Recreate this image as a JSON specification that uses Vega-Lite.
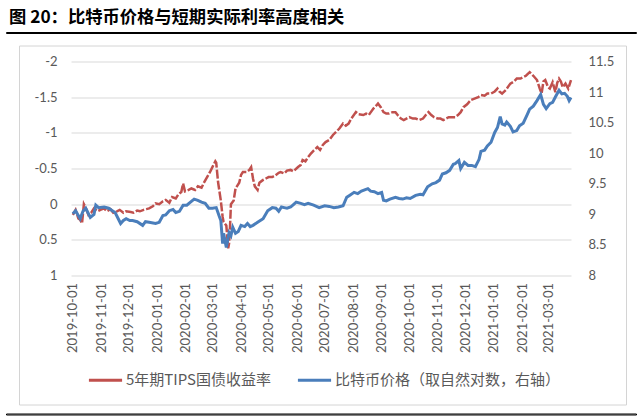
{
  "$schema": "https://vega.github.io/schema/vega-lite/v6.json",
  "padding": {"left": 5, "top": 8, "right": 5, "bottom": 5},
  "background": "white",
  "bounds": "flush",
  "center": false,
  "spacing": 381.5,
  "datasets": {
    "tips": [
      {"date":"2019-10-01","v":0.15},{"date":"2019-10-04","v":0.08},{"date":"2019-10-07","v":0.2},{"date":"2019-10-09","v":0.22},{"date":"2019-10-11","v":0.27},{"date":"2019-10-13","v":0.0},{"date":"2019-10-15","v":0.05},{"date":"2019-10-18","v":0.15},{"date":"2019-10-21","v":0.12},{"date":"2019-10-24","v":0.06},{"date":"2019-10-28","v":0.1},{"date":"2019-10-31","v":0.08},
      {"date":"2019-11-04","v":0.06},{"date":"2019-11-07","v":0.1},{"date":"2019-11-11","v":0.07},{"date":"2019-11-14","v":0.12},{"date":"2019-11-18","v":0.1},{"date":"2019-11-21","v":0.08},{"date":"2019-11-25","v":0.12},{"date":"2019-11-28","v":0.1},
      {"date":"2019-12-03","v":0.11},{"date":"2019-12-06","v":0.12},{"date":"2019-12-10","v":0.09},{"date":"2019-12-13","v":0.1},{"date":"2019-12-17","v":0.08},{"date":"2019-12-20","v":0.07},{"date":"2019-12-23","v":0.06},{"date":"2019-12-27","v":0.03},{"date":"2019-12-30","v":-0.01},
      {"date":"2020-01-03","v":0.0},{"date":"2020-01-07","v":-0.04},{"date":"2020-01-10","v":-0.06},{"date":"2020-01-14","v":-0.02},{"date":"2020-01-17","v":-0.1},{"date":"2020-01-21","v":-0.08},{"date":"2020-01-24","v":-0.14},{"date":"2020-01-27","v":-0.17},{"date":"2020-01-29","v":-0.29},{"date":"2020-01-31","v":-0.18},
      {"date":"2020-02-04","v":-0.2},{"date":"2020-02-07","v":-0.22},{"date":"2020-02-11","v":-0.2},{"date":"2020-02-14","v":-0.25},{"date":"2020-02-18","v":-0.23},{"date":"2020-02-21","v":-0.31},{"date":"2020-02-25","v":-0.4},{"date":"2020-02-28","v":-0.47},
      {"date":"2020-03-02","v":-0.55},{"date":"2020-03-04","v":-0.6},{"date":"2020-03-05","v":-0.58},{"date":"2020-03-07","v":-0.31},{"date":"2020-03-10","v":-0.05},{"date":"2020-03-12","v":0.18},{"date":"2020-03-13","v":0.25},{"date":"2020-03-16","v":0.3},{"date":"2020-03-18","v":0.62},{"date":"2020-03-19","v":0.55},{"date":"2020-03-20","v":0.32},{"date":"2020-03-21","v":0.0},{"date":"2020-03-24","v":-0.05},{"date":"2020-03-26","v":-0.22},{"date":"2020-03-30","v":-0.3},
      {"date":"2020-04-01","v":-0.41},{"date":"2020-04-03","v":-0.45},{"date":"2020-04-07","v":-0.45},{"date":"2020-04-10","v":-0.48},{"date":"2020-04-12","v":-0.52},{"date":"2020-04-14","v":-0.36},{"date":"2020-04-16","v":-0.25},{"date":"2020-04-19","v":-0.2},{"date":"2020-04-21","v":-0.3},{"date":"2020-04-25","v":-0.34},{"date":"2020-04-28","v":-0.36},
      {"date":"2020-05-01","v":-0.38},{"date":"2020-05-05","v":-0.38},{"date":"2020-05-08","v":-0.4},{"date":"2020-05-12","v":-0.44},{"date":"2020-05-14","v":-0.45},{"date":"2020-05-18","v":-0.43},{"date":"2020-05-21","v":-0.47},{"date":"2020-05-25","v":-0.48},{"date":"2020-05-28","v":-0.46},
      {"date":"2020-06-02","v":-0.52},{"date":"2020-06-05","v":-0.55},{"date":"2020-06-07","v":-0.62},{"date":"2020-06-10","v":-0.6},{"date":"2020-06-13","v":-0.66},{"date":"2020-06-16","v":-0.71},{"date":"2020-06-19","v":-0.75},{"date":"2020-06-23","v":-0.8},{"date":"2020-06-26","v":-0.76},{"date":"2020-06-29","v":-0.83},
      {"date":"2020-07-02","v":-0.87},{"date":"2020-07-06","v":-0.9},{"date":"2020-07-10","v":-0.97},{"date":"2020-07-14","v":-1.02},{"date":"2020-07-17","v":-1.06},{"date":"2020-07-21","v":-1.13},{"date":"2020-07-24","v":-1.1},{"date":"2020-07-27","v":-1.13},{"date":"2020-07-30","v":-1.2},
      {"date":"2020-08-04","v":-1.29},{"date":"2020-08-07","v":-1.26},{"date":"2020-08-12","v":-1.25},{"date":"2020-08-15","v":-1.27},{"date":"2020-08-18","v":-1.25},{"date":"2020-08-23","v":-1.34},{"date":"2020-08-26","v":-1.38},{"date":"2020-08-28","v":-1.41},{"date":"2020-08-31","v":-1.36},
      {"date":"2020-09-03","v":-1.29},{"date":"2020-09-06","v":-1.27},{"date":"2020-09-09","v":-1.27},{"date":"2020-09-13","v":-1.29},{"date":"2020-09-16","v":-1.29},{"date":"2020-09-19","v":-1.24},{"date":"2020-09-22","v":-1.2},{"date":"2020-09-25","v":-1.18},{"date":"2020-09-28","v":-1.2},
      {"date":"2020-10-01","v":-1.22},{"date":"2020-10-05","v":-1.2},{"date":"2020-10-08","v":-1.2},{"date":"2020-10-12","v":-1.18},{"date":"2020-10-16","v":-1.2},{"date":"2020-10-19","v":-1.25},{"date":"2020-10-22","v":-1.29},{"date":"2020-10-25","v":-1.25},{"date":"2020-10-28","v":-1.22},
      {"date":"2020-11-01","v":-1.2},{"date":"2020-11-04","v":-1.2},{"date":"2020-11-07","v":-1.18},{"date":"2020-11-10","v":-1.2},{"date":"2020-11-13","v":-1.22},{"date":"2020-11-17","v":-1.22},{"date":"2020-11-20","v":-1.22},{"date":"2020-11-23","v":-1.25},{"date":"2020-11-26","v":-1.29},{"date":"2020-11-29","v":-1.36},
      {"date":"2020-12-03","v":-1.4},{"date":"2020-12-07","v":-1.46},{"date":"2020-12-11","v":-1.48},{"date":"2020-12-15","v":-1.5},{"date":"2020-12-18","v":-1.53},{"date":"2020-12-22","v":-1.52},{"date":"2020-12-25","v":-1.55},{"date":"2020-12-29","v":-1.55},
      {"date":"2021-01-02","v":-1.58},{"date":"2021-01-05","v":-1.62},{"date":"2021-01-07","v":-1.58},{"date":"2021-01-10","v":-1.55},{"date":"2021-01-14","v":-1.6},{"date":"2021-01-19","v":-1.69},{"date":"2021-01-23","v":-1.72},{"date":"2021-01-26","v":-1.76},{"date":"2021-01-30","v":-1.76},
      {"date":"2021-02-02","v":-1.78},{"date":"2021-02-05","v":-1.8},{"date":"2021-02-09","v":-1.85},{"date":"2021-02-13","v":-1.8},{"date":"2021-02-17","v":-1.74},{"date":"2021-02-20","v":-1.62},{"date":"2021-02-22","v":-1.55},{"date":"2021-02-24","v":-1.72},{"date":"2021-02-26","v":-1.74},
      {"date":"2021-03-01","v":-1.64},{"date":"2021-03-03","v":-1.62},{"date":"2021-03-06","v":-1.71},{"date":"2021-03-09","v":-1.57},{"date":"2021-03-11","v":-1.7},{"date":"2021-03-13","v":-1.76},{"date":"2021-03-15","v":-1.72},{"date":"2021-03-17","v":-1.64},{"date":"2021-03-20","v":-1.69},{"date":"2021-03-23","v":-1.62},{"date":"2021-03-26","v":-1.74}
    ],
    "btc": [
      {"date":"2019-10-01","v":9.01},{"date":"2019-10-04","v":9.06},{"date":"2019-10-09","v":8.93},{"date":"2019-10-12","v":9.05},{"date":"2019-10-15","v":9.1},{"date":"2019-10-20","v":8.95},{"date":"2019-10-24","v":9.0},{"date":"2019-10-26","v":9.15},{"date":"2019-10-29","v":9.11},
      {"date":"2019-11-04","v":9.12},{"date":"2019-11-09","v":9.1},{"date":"2019-11-13","v":9.06},{"date":"2019-11-16","v":9.03},{"date":"2019-11-22","v":8.85},{"date":"2019-11-25","v":8.9},{"date":"2019-11-28","v":8.93},
      {"date":"2019-12-02","v":8.9},{"date":"2019-12-05","v":8.9},{"date":"2019-12-10","v":8.88},{"date":"2019-12-16","v":8.82},{"date":"2019-12-19","v":8.88},{"date":"2019-12-23","v":8.87},{"date":"2019-12-30","v":8.85},
      {"date":"2020-01-03","v":8.87},{"date":"2020-01-07","v":8.98},{"date":"2020-01-10","v":8.99},{"date":"2020-01-14","v":9.06},{"date":"2020-01-18","v":9.08},{"date":"2020-01-21","v":9.03},{"date":"2020-01-25","v":9.05},{"date":"2020-01-29","v":9.15},
      {"date":"2020-02-02","v":9.15},{"date":"2020-02-06","v":9.2},{"date":"2020-02-10","v":9.25},{"date":"2020-02-14","v":9.23},{"date":"2020-02-18","v":9.2},{"date":"2020-02-22","v":9.18},{"date":"2020-02-26","v":9.1},
      {"date":"2020-03-01","v":9.1},{"date":"2020-03-05","v":9.11},{"date":"2020-03-08","v":8.98},{"date":"2020-03-10","v":8.9},{"date":"2020-03-12","v":8.52},{"date":"2020-03-13","v":8.69},{"date":"2020-03-16","v":8.46},{"date":"2020-03-19","v":8.7},{"date":"2020-03-21","v":8.65},{"date":"2020-03-23","v":8.79},{"date":"2020-03-26","v":8.69},{"date":"2020-03-29","v":8.72},
      {"date":"2020-04-01","v":8.82},{"date":"2020-04-05","v":8.8},{"date":"2020-04-08","v":8.85},{"date":"2020-04-11","v":8.8},{"date":"2020-04-14","v":8.82},{"date":"2020-04-19","v":8.87},{"date":"2020-04-25","v":8.93},{"date":"2020-04-30","v":9.06},
      {"date":"2020-05-05","v":9.11},{"date":"2020-05-09","v":9.1},{"date":"2020-05-12","v":9.05},{"date":"2020-05-15","v":9.12},{"date":"2020-05-18","v":9.11},{"date":"2020-05-21","v":9.1},{"date":"2020-05-25","v":9.12},{"date":"2020-05-28","v":9.16},{"date":"2020-05-31","v":9.2},
      {"date":"2020-06-05","v":9.18},{"date":"2020-06-09","v":9.16},{"date":"2020-06-13","v":9.18},{"date":"2020-06-19","v":9.15},{"date":"2020-06-25","v":9.11},
      {"date":"2020-07-01","v":9.14},{"date":"2020-07-06","v":9.13},{"date":"2020-07-11","v":9.11},{"date":"2020-07-16","v":9.12},{"date":"2020-07-21","v":9.14},{"date":"2020-07-25","v":9.28},{"date":"2020-07-28","v":9.31},
      {"date":"2020-08-02","v":9.36},{"date":"2020-08-06","v":9.34},{"date":"2020-08-10","v":9.38},{"date":"2020-08-17","v":9.42},{"date":"2020-08-20","v":9.38},{"date":"2020-08-24","v":9.37},{"date":"2020-08-28","v":9.34},
      {"date":"2020-09-01","v":9.36},{"date":"2020-09-03","v":9.23},{"date":"2020-09-06","v":9.22},{"date":"2020-09-10","v":9.25},{"date":"2020-09-16","v":9.28},{"date":"2020-09-20","v":9.26},{"date":"2020-09-24","v":9.25},{"date":"2020-09-28","v":9.27},
      {"date":"2020-10-02","v":9.26},{"date":"2020-10-08","v":9.31},{"date":"2020-10-13","v":9.33},{"date":"2020-10-16","v":9.32},{"date":"2020-10-21","v":9.45},{"date":"2020-10-26","v":9.5},{"date":"2020-10-30","v":9.52},
      {"date":"2020-11-03","v":9.56},{"date":"2020-11-06","v":9.66},{"date":"2020-11-10","v":9.68},{"date":"2020-11-14","v":9.72},{"date":"2020-11-18","v":9.82},{"date":"2020-11-20","v":9.83},{"date":"2020-11-24","v":9.88},{"date":"2020-11-26","v":9.75},{"date":"2020-11-30","v":9.85},
      {"date":"2020-12-04","v":9.8},{"date":"2020-12-08","v":9.8},{"date":"2020-12-12","v":9.78},{"date":"2020-12-16","v":9.9},{"date":"2020-12-18","v":10.03},{"date":"2020-12-22","v":10.05},{"date":"2020-12-25","v":10.12},{"date":"2020-12-29","v":10.18},
      {"date":"2021-01-02","v":10.34},{"date":"2021-01-05","v":10.42},{"date":"2021-01-08","v":10.6},{"date":"2021-01-10","v":10.48},{"date":"2021-01-13","v":10.46},{"date":"2021-01-15","v":10.51},{"date":"2021-01-19","v":10.44},{"date":"2021-01-22","v":10.35},{"date":"2021-01-26","v":10.37},{"date":"2021-01-29","v":10.45},
      {"date":"2021-02-02","v":10.49},{"date":"2021-02-06","v":10.62},{"date":"2021-02-09","v":10.72},{"date":"2021-02-13","v":10.77},{"date":"2021-02-17","v":10.86},{"date":"2021-02-21","v":10.96},{"date":"2021-02-24","v":10.8},{"date":"2021-02-27","v":10.73},
      {"date":"2021-03-03","v":10.81},{"date":"2021-03-06","v":10.83},{"date":"2021-03-09","v":10.92},{"date":"2021-03-13","v":11.03},{"date":"2021-03-16","v":10.97},{"date":"2021-03-19","v":10.98},{"date":"2021-03-22","v":10.93},{"date":"2021-03-24","v":10.86},{"date":"2021-03-26","v":10.91}
    ]
  },
  "vconcat": [
    {
      "bounds": "flush",
      "center": false,
      "spacing": 12.5,
      "vconcat": [
        {
          "width": 630,
          "height": 1,
          "view": {"stroke": "#000000", "strokeWidth": 1, "fill": null},
          "title": {"text": "图 20：比特币价格与短期实际利率高度相关", "anchor": "start", "font": "Noto Sans CJK SC", "fontSize": 17.3, "fontWeight": "bold", "color": "#000000", "offset": 6, "dx": 3},
          "data": {"values": []},
          "mark": {"type": "point", "opacity": 0},
          "encoding": {}
        },
        {
          "bounds": "flush",
          "center": false,
          "spacing": 16,
          "vconcat": [
            {
              "bounds": "flush",
              "spacing": 13,
              "hconcat": [
                {"vconcat": [{"width": 1, "height": 1, "view": {"stroke": null}, "data": {"values": []}, "mark": {"type": "point", "opacity": 0}, "encoding": {}}]},
                {
                  "width": 607,
                  "height": 359,
                  "view": {"stroke": "#d4d4d4", "strokeWidth": 1, "fill": null},
                  "data": {"values": []},
                  "mark": {"type": "point", "opacity": 0},
                  "encoding": {}
                }
              ]
            },
            {
              "bounds": "flush",
              "spacing": 65,
              "resolve": {"scale": {"color": "independent"}, "legend": {"color": "independent"}},
              "hconcat": [
                {"vconcat": [{"width": 1, "height": 1, "view": {"stroke": null}, "data": {"values": []}, "mark": {"type": "point", "opacity": 0}, "encoding": {}}]},
                {
                  "width": 500,
                  "height": 214,
                  "view": {"stroke": null},
                  "encoding": {
                    "x": {
                      "field": "date", "type": "temporal",
                      "scale": {"type": "utc", "domain": [{"year": 2019, "month": 9, "date": 29, "utc": true}, {"year": 2021, "month": 3, "date": 26, "utc": true}]},
                      "axis": {
                        "values": [
                          {"year": 2019, "month": 10, "date": 1, "utc": true},{"year": 2019, "month": 11, "date": 1, "utc": true},{"year": 2019, "month": 12, "date": 1, "utc": true},
                          {"year": 2020, "month": 1, "date": 1, "utc": true},{"year": 2020, "month": 2, "date": 1, "utc": true},{"year": 2020, "month": 3, "date": 1, "utc": true},
                          {"year": 2020, "month": 4, "date": 1, "utc": true},{"year": 2020, "month": 5, "date": 1, "utc": true},{"year": 2020, "month": 6, "date": 1, "utc": true},
                          {"year": 2020, "month": 7, "date": 1, "utc": true},{"year": 2020, "month": 8, "date": 1, "utc": true},{"year": 2020, "month": 9, "date": 1, "utc": true},
                          {"year": 2020, "month": 10, "date": 1, "utc": true},{"year": 2020, "month": 11, "date": 1, "utc": true},{"year": 2020, "month": 12, "date": 1, "utc": true},
                          {"year": 2021, "month": 1, "date": 1, "utc": true},{"year": 2021, "month": 2, "date": 1, "utc": true},{"year": 2021, "month": 3, "date": 1, "utc": true}
                        ],
                        "format": "%Y-%m-%d",
                        "labelAngle": -90,
                        "labelPadding": 7,
                        "grid": false,
                        "domain": false,
                        "labelFlush": false,
                        "labelOverlap": false
                      }
                    }
                  },
                  "layer": [
                    {
                      "data": {"name": "tips"},
                      "mark": {"type": "line", "strokeWidth": 2.5, "strokeDash": [9, 2]},
                      "encoding": {
                        "y": {
                          "field": "v", "type": "quantitative",
                          "scale": {"domain": [-2, 1], "reverse": true, "nice": false, "zero": false},
                          "axis": {"orient": "left", "values": [-2, -1.5, -1, -0.5, 0, 0.5, 1], "format": "~g", "labelExpr": "replace(datum.label, '−', '-')", "grid": true, "labelPadding": 14}
                        },
                        "color": {
                          "datum": "5年期TIPS国债收益率",
                          "scale": {"domain": ["5年期TIPS国债收益率", "比特币价格（取自然对数，右轴）"], "range": ["#C0504D", "#4A7EBB"]},
                          "legend": {"title": null}
                        }
                      }
                    },
                    {
                      "data": {"name": "btc"},
                      "mark": {"type": "line", "strokeWidth": 3},
                      "encoding": {
                        "y": {
                          "field": "v", "type": "quantitative",
                          "scale": {"domain": [8, 11.5], "nice": false, "zero": false},
                          "axis": {"orient": "right", "values": [8, 8.5, 9, 9.5, 10, 10.5, 11, 11.5], "format": "~g", "grid": false, "labelPadding": 17}
                        },
                        "color": {"datum": "比特币价格（取自然对数，右轴）"}
                      }
                    }
                  ],
                  "resolve": {"scale": {"y": "independent"}}
                }
              ]
            }
          ]
        }
      ]
    },
    {
      "width": 630,
      "height": 1,
      "view": {"stroke": "#000000", "strokeWidth": 1, "fill": null},
      "data": {"values": []},
      "mark": {"type": "point", "opacity": 0},
      "encoding": {}
    }
  ],
  "config": {
    "font": "Lato",
    "axis": {"labelFont": "Lato", "labelFontSize": 13, "labelColor": "#595959", "domain": false, "ticks": false, "tickSize": 0, "gridColor": "#d9d9d9", "gridWidth": 1, "title": null},
    "legend": {"orient": "bottom", "direction": "horizontal", "symbolType": "stroke", "symbolSize": 1100, "symbolStrokeWidth": 3, "labelFont": "Noto Sans CJK SC", "labelFontSize": 15, "labelColor": "#595959", "labelLimit": 400, "columnPadding": 20, "labelOffset": 2, "padding": 16, "offset": -7}
  }
}
